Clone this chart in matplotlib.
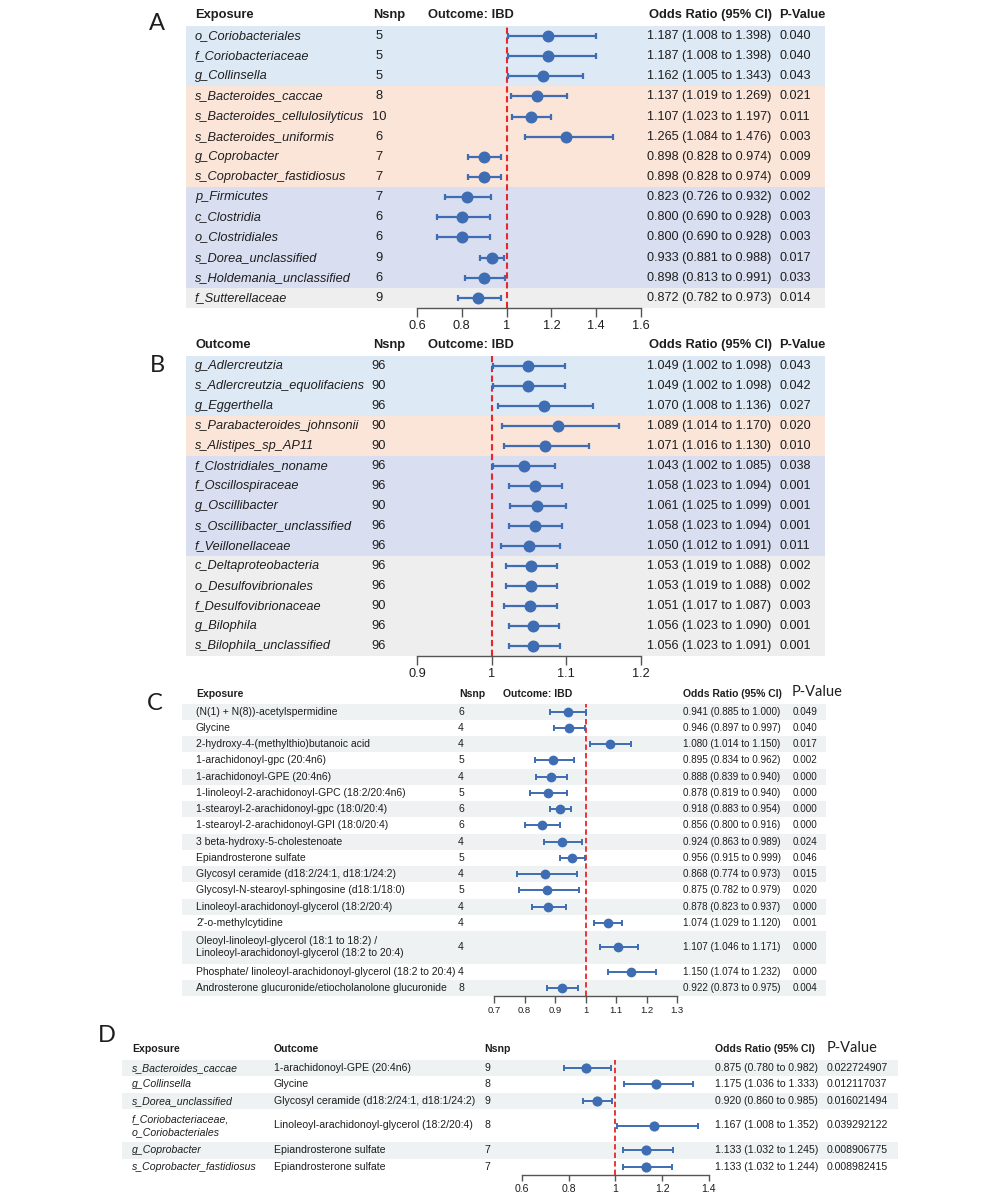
import matplotlib

matplotlib.use("Agg")
import matplotlib.pyplot as plt
import numpy as np
from matplotlib.patches import Rectangle

plt.rcParams["font.family"] = ["Liberation Sans", "DejaVu Sans"]

W, H = 1000, 1203

# ---------------- panel A: gut microbiota -> IBD
a_names = ["o_Coriobacteriales", "f_Coriobacteriaceae", "g_Collinsella",
           "s_Bacteroides_caccae", "s_Bacteroides_cellulosilyticus", "s_Bacteroides_uniformis",
           "g_Coprobacter", "s_Coprobacter_fastidiosus", "p_Firmicutes", "c_Clostridia",
           "o_Clostridiales", "s_Dorea_unclassified", "s_Holdemania_unclassified",
           "f_Sutterellaceae"]
a_nsnp = [5, 5, 5, 8, 10, 6, 7, 7, 7, 6, 6, 9, 6, 9]
a_or = [1.187, 1.187, 1.162, 1.137, 1.107, 1.265, 0.898, 0.898, 0.823, 0.800, 0.800, 0.933, 0.898, 0.872]
a_lo = [1.008, 1.008, 1.005, 1.019, 1.023, 1.084, 0.828, 0.828, 0.726, 0.690, 0.690, 0.881, 0.813, 0.782]
a_hi = [1.398, 1.398, 1.343, 1.269, 1.197, 1.476, 0.974, 0.974, 0.932, 0.928, 0.928, 0.988, 0.991, 0.973]
a_p = ["0.040", "0.040", "0.043", "0.021", "0.011", "0.003", "0.009", "0.009",
       "0.002", "0.003", "0.003", "0.017", "0.033", "0.014"]
a_group = ["blue"] * 3 + ["peach"] * 5 + ["lavender"] * 5 + ["gray"]
a_ticks = [0.6, 0.8, 1.0, 1.2, 1.4, 1.6]

# ---------------- panel B: IBD -> gut microbiota
b_names = ["g_Adlercreutzia", "s_Adlercreutzia_equolifaciens", "g_Eggerthella",
           "s_Parabacteroides_johnsonii", "s_Alistipes_sp_AP11", "f_Clostridiales_noname",
           "f_Oscillospiraceae", "g_Oscillibacter", "s_Oscillibacter_unclassified",
           "f_Veillonellaceae", "c_Deltaproteobacteria", "o_Desulfovibrionales",
           "f_Desulfovibrionaceae", "g_Bilophila", "s_Bilophila_unclassified"]
b_nsnp = [96, 90, 96, 90, 90, 96, 96, 90, 96, 96, 96, 96, 90, 96, 96]
b_or = [1.049, 1.049, 1.070, 1.089, 1.071, 1.043, 1.058, 1.061, 1.058, 1.050, 1.053, 1.053, 1.051, 1.056, 1.056]
b_lo = [1.002, 1.002, 1.008, 1.014, 1.016, 1.002, 1.023, 1.025, 1.023, 1.012, 1.019, 1.019, 1.017, 1.023, 1.023]
b_hi = [1.098, 1.098, 1.136, 1.170, 1.130, 1.085, 1.094, 1.099, 1.094, 1.091, 1.088, 1.088, 1.087, 1.090, 1.091]
b_p = ["0.043", "0.042", "0.027", "0.020", "0.010", "0.038", "0.001", "0.001",
       "0.001", "0.011", "0.002", "0.002", "0.003", "0.001", "0.001"]
b_group = ["blue"] * 3 + ["peach"] * 2 + ["lavender"] * 5 + ["gray"] * 5
b_ticks = [0.9, 1.0, 1.1, 1.2]

# ---------------- panel C: metabolites -> IBD
c_names = ["(N(1) + N(8))-acetylspermidine", "Glycine", "2-hydroxy-4-(methylthio)butanoic acid",
           "1-arachidonoyl-gpc (20:4n6)", "1-arachidonoyl-GPE (20:4n6)",
           "1-linoleoyl-2-arachidonoyl-GPC (18:2/20:4n6)", "1-stearoyl-2-arachidonoyl-gpc (18:0/20:4)",
           "1-stearoyl-2-arachidonoyl-GPI (18:0/20:4)", "3 beta-hydroxy-5-cholestenoate",
           "Epiandrosterone sulfate", "Glycosyl ceramide (d18:2/24:1, d18:1/24:2)",
           "Glycosyl-N-stearoyl-sphingosine (d18:1/18:0)", "Linoleoyl-arachidonoyl-glycerol (18:2/20:4)",
           "2'-o-methylcytidine",
           "Oleoyl-linoleoyl-glycerol (18:1 to 18:2) /\nLinoleoyl-arachidonoyl-glycerol (18:2 to 20:4)",
           "Phosphate/ linoleoyl-arachidonoyl-glycerol (18:2 to 20:4)",
           "Androsterone glucuronide/etiocholanolone glucuronide"]
c_nsnp = [6, 4, 4, 5, 4, 5, 6, 6, 4, 5, 4, 5, 4, 4, 4, 4, 8]
c_or = [0.941, 0.946, 1.080, 0.895, 0.888, 0.878, 0.918, 0.856, 0.924, 0.956, 0.868, 0.875, 0.878, 1.074, 1.107, 1.150, 0.922]
c_lo = [0.885, 0.897, 1.014, 0.834, 0.839, 0.819, 0.883, 0.800, 0.863, 0.915, 0.774, 0.782, 0.823, 1.029, 1.046, 1.074, 0.873]
c_hi = [1.000, 0.997, 1.150, 0.962, 0.940, 0.940, 0.954, 0.916, 0.989, 0.999, 0.973, 0.979, 0.937, 1.120, 1.171, 1.232, 0.975]
c_p = ["0.049", "0.040", "0.017", "0.002", "0.000", "0.000", "0.000", "0.000", "0.024",
       "0.046", "0.015", "0.020", "0.000", "0.001", "0.000", "0.000", "0.004"]
c_ticks = [0.7, 0.8, 0.9, 1.0, 1.1, 1.2, 1.3]

# ---------------- panel D: microbiota -> metabolites
d_exposure = ["s_Bacteroides_caccae", "g_Collinsella", "s_Dorea_unclassified",
              "f_Coriobacteriaceae,\no_Coriobacteriales", "g_Coprobacter", "s_Coprobacter_fastidiosus"]
d_outcome = ["1-arachidonoyl-GPE (20:4n6)", "Glycine", "Glycosyl ceramide (d18:2/24:1, d18:1/24:2)",
             "Linoleoyl-arachidonoyl-glycerol (18:2/20:4)", "Epiandrosterone sulfate", "Epiandrosterone sulfate"]
d_nsnp = [9, 8, 9, 8, 7, 7]
d_or = [0.875, 1.175, 0.920, 1.167, 1.133, 1.133]
d_lo = [0.780, 1.036, 0.860, 1.008, 1.032, 1.032]
d_hi = [0.982, 1.333, 0.985, 1.352, 1.245, 1.244]
d_p = ["0.022724907", "0.012117037", "0.016021494", "0.039292122", "0.008906775", "0.008982415"]
d_ticks = [0.6, 0.8, 1.0, 1.2, 1.4]

BAND = {"blue": "#dde9f5", "peach": "#fbe4d8", "lavender": "#d9def0", "gray": "#eeeeee"}
STRIPE = "#eef2f2"
BLUE = "#3e6db3"
RED = "#e8262b"
TXT = "#1e1e1e"
AXC = "#555555"


def fig_rect(x0, x1, y0, y1):
    return [x0 / W, 1 - y1 / H, (x1 - x0) / W, (y1 - y0) / H]


def row_centers(heights):
    heights = np.asarray(heights, dtype=float)
    return np.cumsum(heights) - heights / 2


def forest(fig, heights, top, unit, x0, x1, ticks, or_, lo, hi, ms, lw, cap, dash_lw, tick_len, tick_fs):
    n_units = sum(heights)
    ax = fig.add_axes(fig_rect(x0, x1, top, top + n_units * unit))
    ax.set_xlim(ticks[0], ticks[-1])
    ax.set_ylim(n_units, 0)
    ax.patch.set_alpha(0)
    or_ = np.asarray(or_)
    centers = row_centers(heights)
    ax.axvline(1.0, color=RED, lw=dash_lw, ls=(0, (3, 1.7)), zorder=1)
    ax.errorbar(or_, centers, xerr=[or_ - np.asarray(lo), np.asarray(hi) - or_], fmt="o",
                color=BLUE, ecolor=BLUE, ms=ms, elinewidth=lw, capsize=cap, capthick=lw,
                zorder=3, clip_on=False)
    for s in ["top", "left", "right"]:
        ax.spines[s].set_visible(False)
    ax.spines["bottom"].set_color(AXC)
    ax.spines["bottom"].set_linewidth(1.0)
    ax.set_yticks([])
    ax.set_xticks(ticks)
    ax.set_xticklabels([f"{t:g}" for t in ticks])
    ax.tick_params(axis="x", length=tick_len, width=1.0, color=AXC, labelcolor=TXT,
                   labelsize=tick_fs, pad=2)
    return centers


def or_text(o, l, h):
    return f"{o:.3f} ({l:.3f} to {h:.3f})"


fig = plt.figure(figsize=(W / 100, H / 100), dpi=100)
bg = fig.add_axes([0, 0, 1, 1])
bg.set_xlim(0, W)
bg.set_ylim(H, 0)
bg.axis("off")

LETTER = dict(family=["Lato", "DejaVu Sans"], fontsize=17, color=TXT, ha="center", va="center")

# ---- panels A and B share the same table layout
for names, nsnp, o, l, h, p, grp, ticks, top, unit, head, hy, letter, ly in [
    (a_names, a_nsnp, a_or, a_lo, a_hi, a_p, a_group, a_ticks, 26, 20.14, "Exposure", 15, "A", 24),
    (b_names, b_nsnp, b_or, b_lo, b_hi, b_p, b_group, b_ticks, 356, 20.0, "Outcome", 345, "B", 366),
]:
    heights = [1] * len(names)
    cen = row_centers(heights)
    for i, g in enumerate(grp):
        bg.add_patch(Rectangle((186, top + i * unit), 825 - 186, unit, color=BAND[g], lw=0, zorder=0))
    forest(fig, heights, top, unit, 417, 641, ticks, o, l, h,
           ms=7.6, lw=1.6, cap=2.4, dash_lw=1.5, tick_len=6.5, tick_fs=9.2)
    bg.text(157, ly, letter, **LETTER)
    hdr = dict(fontsize=9.3, fontweight="bold", color=TXT, va="center")
    bg.text(195, hy, head, **hdr)
    bg.text(373, hy, "Nsnp", **hdr)
    bg.text(428, hy, "Outcome: IBD", **hdr)
    bg.text(649, hy, "Odds Ratio (95% CI)", **hdr)
    bg.text(779, hy, "P-Value", **hdr)
    for i in range(len(names)):
        y = top + cen[i] * unit
        bg.text(195, y, names[i], fontsize=9.2, style="italic", color=TXT, va="center")
        bg.text(379, y, str(nsnp[i]), fontsize=9.3, color=TXT, va="center", ha="center")
        bg.text(647, y, or_text(o[i], l[i], h[i]), fontsize=9.1, color=TXT, va="center")
        bg.text(780, y, p[i], fontsize=9.1, color=TXT, va="center")

# ---- panel C
c_heights = [1] * 14 + [2, 1, 1]
c_top, c_unit = 703.5, 16.25
cen = row_centers(c_heights)
edges = np.concatenate([[0], np.cumsum(c_heights)])
for i in range(len(c_names)):
    if i % 2 == 0:
        bg.add_patch(Rectangle((182, c_top + edges[i] * c_unit), 826 - 182, c_heights[i] * c_unit,
                               color=STRIPE, lw=0, zorder=0))
forest(fig, c_heights, c_top, c_unit, 494, 677, c_ticks, c_or, c_lo, c_hi,
       ms=6.0, lw=1.4, cap=2.0, dash_lw=1.3, tick_len=5, tick_fs=6.8)
bg.text(155, 703, "C", **LETTER)
hdr = dict(fontsize=7.5, fontweight="bold", color=TXT, va="center")
bg.text(196, 694, "Exposure", **hdr)
bg.text(459, 694, "Nsnp", **hdr)
bg.text(503, 694, "Outcome: IBD", **hdr)
bg.text(683, 694, "Odds Ratio (95% CI)", **hdr)
bg.text(792, 692, "P-Value", family=["Lato", "DejaVu Sans"], fontsize=10.5, color=TXT, va="center")
for i in range(len(c_names)):
    y = c_top + cen[i] * c_unit
    bg.text(196, y, c_names[i], fontsize=7.5, color=TXT, va="center", linespacing=1.25)
    bg.text(461, y, str(c_nsnp[i]), fontsize=7.5, color=TXT, va="center", ha="center")
    bg.text(683, y, or_text(c_or[i], c_lo[i], c_hi[i]), fontsize=7.1, color=TXT, va="center")
    bg.text(793, y, c_p[i], fontsize=7.1, color=TXT, va="center")

# ---- panel D
d_heights = [1, 1, 1, 2, 1, 1]
d_top, d_unit = 1059.5, 16.5
cen = row_centers(d_heights)
edges = np.concatenate([[0], np.cumsum(d_heights)])
for i in range(len(d_exposure)):
    if i % 2 == 0:
        bg.add_patch(Rectangle((122, d_top + edges[i] * d_unit), 898 - 122, d_heights[i] * d_unit,
                               color=STRIPE, lw=0, zorder=0))
forest(fig, d_heights, d_top, d_unit, 521.7, 709, d_ticks, d_or, d_lo, d_hi,
       ms=6.3, lw=1.4, cap=2.0, dash_lw=1.3, tick_len=4.5, tick_fs=7.6)
bg.text(107, 1036, "D", **LETTER)
hdr = dict(fontsize=7.6, fontweight="bold", color=TXT, va="center")
bg.text(132, 1049, "Exposure", **hdr)
bg.text(274, 1049, "Outcome", **hdr)
bg.text(484, 1049, "Nsnp", **hdr)
bg.text(715, 1049, "Odds Ratio (95% CI)", **hdr)
bg.text(827, 1048, "P-Value", family=["Lato", "DejaVu Sans"], fontsize=10.5, color=TXT, va="center")
for i in range(len(d_exposure)):
    y = d_top + cen[i] * d_unit
    bg.text(132, y, d_exposure[i], fontsize=7.6, style="italic", color=TXT, va="center", linespacing=1.3)
    bg.text(274, y, d_outcome[i], fontsize=7.6, color=TXT, va="center")
    bg.text(487, y, str(d_nsnp[i]), fontsize=7.6, color=TXT, va="center", ha="center")
    bg.text(715, y, or_text(d_or[i], d_lo[i], d_hi[i]), fontsize=7.6, color=TXT, va="center")
    bg.text(827, y, d_p[i], fontsize=7.6, color=TXT, va="center")

fig.savefig("out.png", dpi=100)
